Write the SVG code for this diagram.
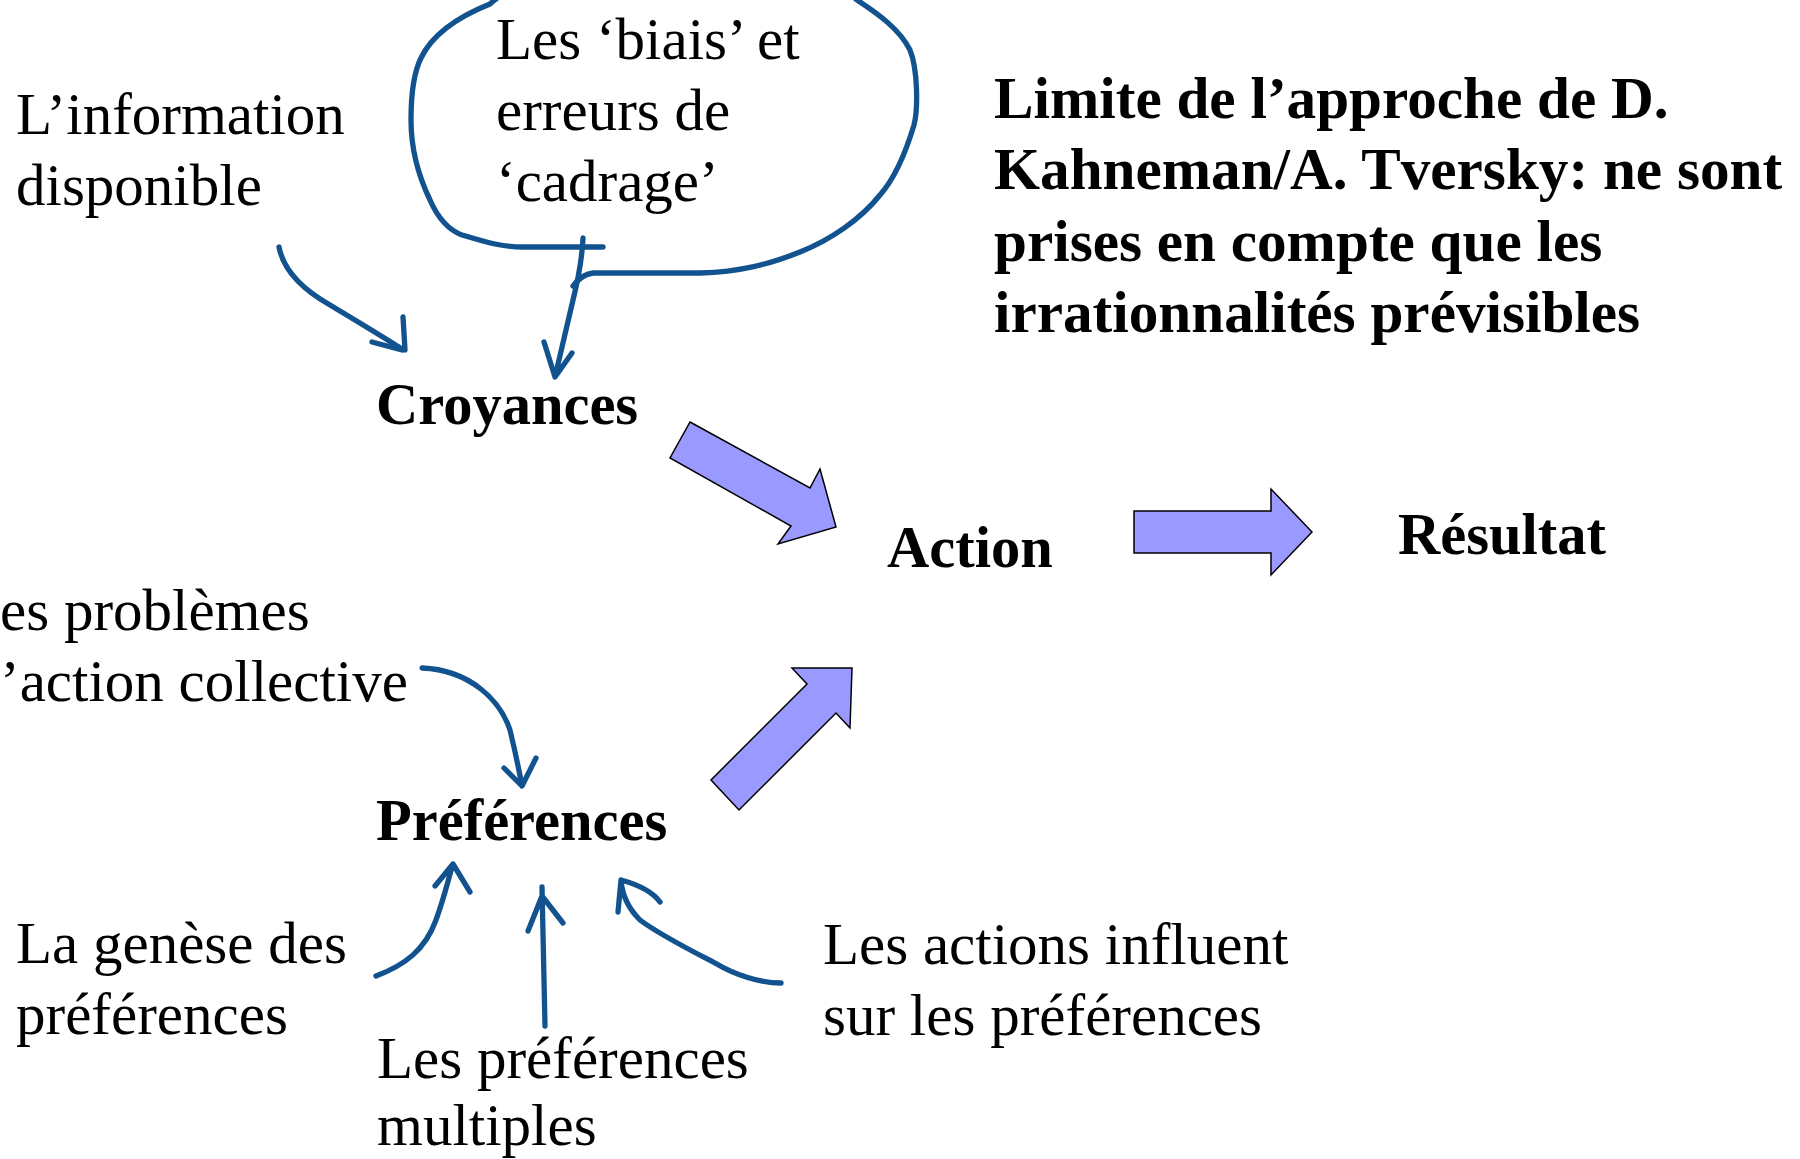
<svg xmlns="http://www.w3.org/2000/svg" width="1800" height="1159" viewBox="0 0 1800 1159">
<style>
  .t { font-family: "Liberation Serif", "Times New Roman", serif; font-size: 59px; fill: #000; }
  .b { font-family: "Liberation Serif", "Times New Roman", serif; font-size: 58.5px; font-weight: bold; fill: #000; }
  .tb { font-size: 59.2px; }
  .ink { fill: none; stroke: #12528f; stroke-width: 5.3; stroke-linecap: round; stroke-linejoin: round; }
  .big { fill: #9999ff; stroke: #000; stroke-width: 1.5; stroke-linejoin: miter; }
</style>
<rect width="1800" height="1159" fill="#ffffff"/>
<g id="connectors">
  <polygon class="big" points="690,422 810,488 820,469 836,527 778,544 791,526 670,458"/>
  <polygon class="big" points="1134,511 1271,511 1271,489 1312,532 1271,575 1271,553 1134,553"/>
  <polygon class="big" points="852,668 792,668 807,684 711,780 739,810 836,713 850,728"/>
  <path class="ink" d="M279,247 C283,268 300,288 330,305 C355,320 380,335 402,349 M403,317 L405,350 M372,342 L402,350"/>
  <path class="ink" d="M603,247 L523,247 C500,247 482,241 462,235 C446,229 437,216 430,200 C418,175 411,150 411,120 C411,95 414,72 421,58 C432,35 455,18 490,4 C560,-60 790,-60 857,0 C880,15 900,30 910,50 C918,70 918,110 914,125 C905,155 895,178 880,195 C860,220 830,240 800,252 C770,264 740,272 700,273 L593,273 C585,274 578,279 573,286"/>
  <path class="ink" d="M583,238 C582,260 578,280 573,300 L555,377 M544,342 L555,377 L572,353"/>
  <path class="ink" d="M422,668 C470,670 500,700 510,730 C516,755 519,770 522,786 M504,768 L522,786 L536,758"/>
  <path class="ink" d="M376,976 C405,965 425,950 436,920 C445,895 448,880 453,864 M435,886 L453,864 L470,892"/>
  <path class="ink" d="M545,1026 L542,887 M528,931 L542,896 L563,923"/>
  <path class="ink" d="M781,983 C760,983 735,975 715,963 C690,950 660,935 640,920 C628,908 622,895 621,880 M618,912 L621,880 Q650,888 660,902"/>
</g>
<g id="title">
  <text class="b tb" x="994" y="118">Limite de l’approche de D.</text>
  <text class="b tb" x="994" y="189">Kahneman/A. Tversky: ne sont</text>
  <text class="b tb" x="994" y="261">prises en compte que les</text>
  <text class="b tb" x="994" y="332">irrationnalités prévisibles</text>
</g>
<g id="info">
  <text class="t" x="16" y="134">L’information</text>
  <text class="t" x="16" y="205">disponible</text>
</g>
<g id="biais">
  <text class="t" x="496" y="59">Les ‘biais’ et</text>
  <text class="t" x="496" y="130">erreurs de</text>
  <text class="t" x="496" y="201">‘cadrage’</text>
</g>
<g id="croyances"><text class="b" x="376" y="424">Croyances</text></g>
<g id="action"><text class="b" x="887" y="567">Action</text></g>
<g id="resultat"><text class="b" x="1398" y="554">Résultat</text></g>
<g id="preferences"><text class="b" x="376" y="840">Préférences</text></g>
<g id="collective">
  <text class="t" x="0" y="630">es problèmes</text>
  <text class="t" x="0" y="701">’action collective</text>
</g>
<g id="genese">
  <text class="t" x="16" y="963">La genèse des</text>
  <text class="t" x="16" y="1034">préférences</text>
</g>
<g id="multiples">
  <text class="t" x="377" y="1078">Les préférences</text>
  <text class="t" x="377" y="1145">multiples</text>
</g>
<g id="actions-influent">
  <text class="t" x="823" y="964">Les actions influent</text>
  <text class="t" x="823" y="1035">sur les préférences</text>
</g>
</svg>
